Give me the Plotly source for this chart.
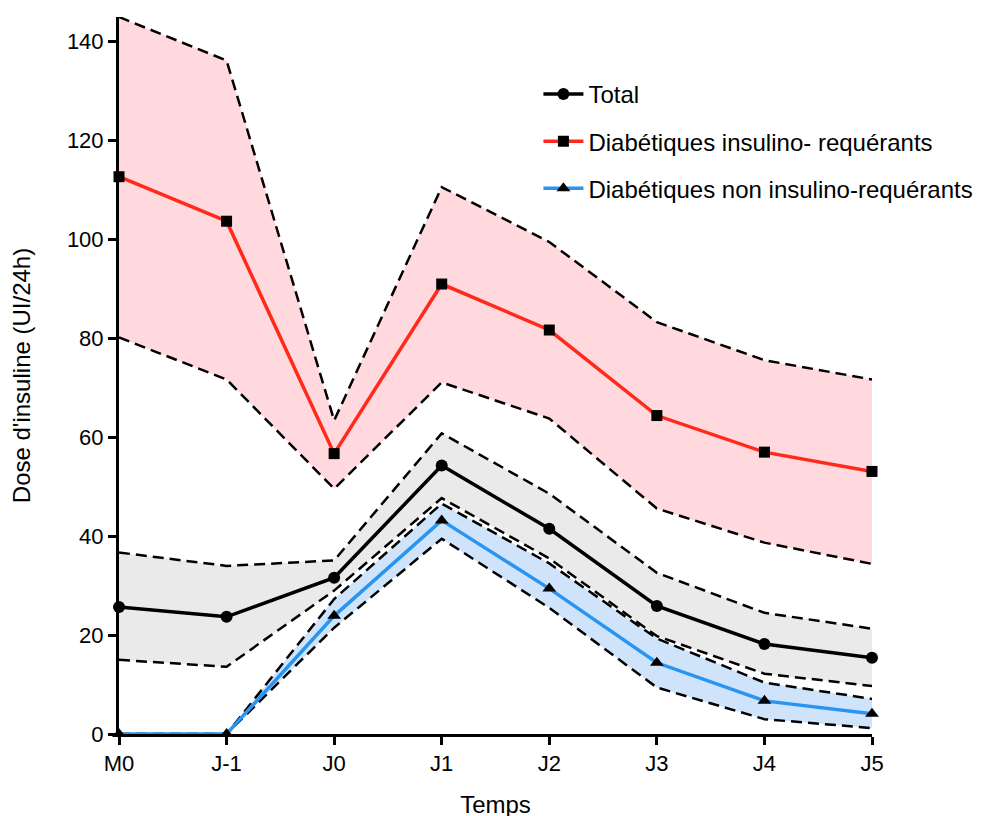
import plotly.graph_objects as go

categories = ["M0", "J-1", "J0", "J1", "J2", "J3", "J4", "J5"]

total = [25.7, 23.7, 31.6, 54.3, 41.5, 25.9, 18.2, 15.4]
total_upper = [36.7, 34.0, 35.1, 60.8, 48.6, 32.6, 24.5, 21.3]
total_lower = [15.0, 13.6, 29.0, 47.7, 35.5, 19.8, 12.2, 9.7]

insulino = [112.7, 103.7, 56.7, 91.0, 81.7, 64.4, 57.0, 53.1]
insulino_upper = [145.0, 136.2, 63.4, 110.6, 99.5, 83.3, 75.6, 71.7]
insulino_lower = [80.2, 71.7, 49.6, 71.1, 63.8, 45.6, 38.7, 34.4]

non_insulino = [0.0, 0.0, 23.9, 43.2, 29.4, 14.4, 6.7, 4.1]
non_insulino_upper = [0.0, 0.0, 27.3, 46.6, 34.5, 19.3, 10.4, 7.1]
non_insulino_lower = [0.0, 0.0, 21.5, 39.5, 25.5, 9.4, 3.0, 1.2]

y_ticks = [0, 20, 40, 60, 80, 100, 120, 140]

FONT = "Liberation Sans, Arial, Helvetica, sans-serif"
DASH = "11px,6px"

fig = go.Figure()


def band(lower, upper, fillcolor):
    fig.add_trace(go.Scatter(
        x=categories, y=lower, mode="lines",
        line=dict(color="black", width=2.5, dash=DASH),
        showlegend=False, hoverinfo="skip", cliponaxis=False))
    fig.add_trace(go.Scatter(
        x=categories, y=upper, mode="lines", fill="tonexty", fillcolor=fillcolor,
        line=dict(color="black", width=2.5, dash=DASH),
        showlegend=False, hoverinfo="skip", cliponaxis=False))


band(insulino_lower, insulino_upper, "rgba(255,217,221,1)")
band(total_lower, total_upper, "rgba(234,234,234,1)")
band(non_insulino_lower, non_insulino_upper, "rgba(204,227,251,0.95)")

fig.add_trace(go.Scatter(
    x=categories, y=total, mode="lines+markers", name="Total",
    line=dict(color="black", width=3.5),
    marker=dict(symbol="circle", size=12, color="black"),
    legendgroup="a", cliponaxis=False))
fig.add_trace(go.Scatter(
    x=categories, y=insulino, mode="lines+markers",
    name="Diabétiques insulino- requérants",
    line=dict(color="#ff2a1c", width=3.5),
    marker=dict(symbol="square", size=11, color="black"),
    legendgroup="b", cliponaxis=False))
fig.add_trace(go.Scatter(
    x=categories, y=non_insulino, mode="lines+markers",
    name="Diabétiques non insulino-requérants",
    line=dict(color="#2a95f0", width=3.5),
    marker=dict(symbol="triangle-up", size=12, color="black"),
    legendgroup="c", cliponaxis=False))

fig.update_layout(
    width=986, height=816,
    margin=dict(l=111, r=122, t=9, b=90),
    paper_bgcolor="white", plot_bgcolor="white",
    font=dict(family=FONT, size=22, color="black"),
    legend=dict(x=0.557, y=0.9235, xanchor="left", yanchor="top",
                font=dict(size=24), tracegroupgap=13, itemwidth=40,
                bgcolor="rgba(0,0,0,0)"),
    xaxis=dict(
        type="category", range=[0, 7],
        showline=True, linecolor="black", linewidth=3,
        ticks="outside", ticklen=8, tickwidth=3, tickcolor="black",
        showgrid=False, zeroline=False, layer="below traces",
        tickfont=dict(size=22),
        title=dict(text="Temps", font=dict(size=24), standoff=21)),
    yaxis=dict(
        range=[0, 145], tickvals=y_ticks,
        showline=True, linecolor="black", linewidth=3,
        ticks="outside", ticklen=8, tickwidth=3, tickcolor="black",
        showgrid=False, zeroline=False, layer="below traces",
        tickfont=dict(size=22),
        title=dict(text="Dose d'insuline (UI/24h)", font=dict(size=24), standoff=30)),
)

fig.write_html("out.html")
